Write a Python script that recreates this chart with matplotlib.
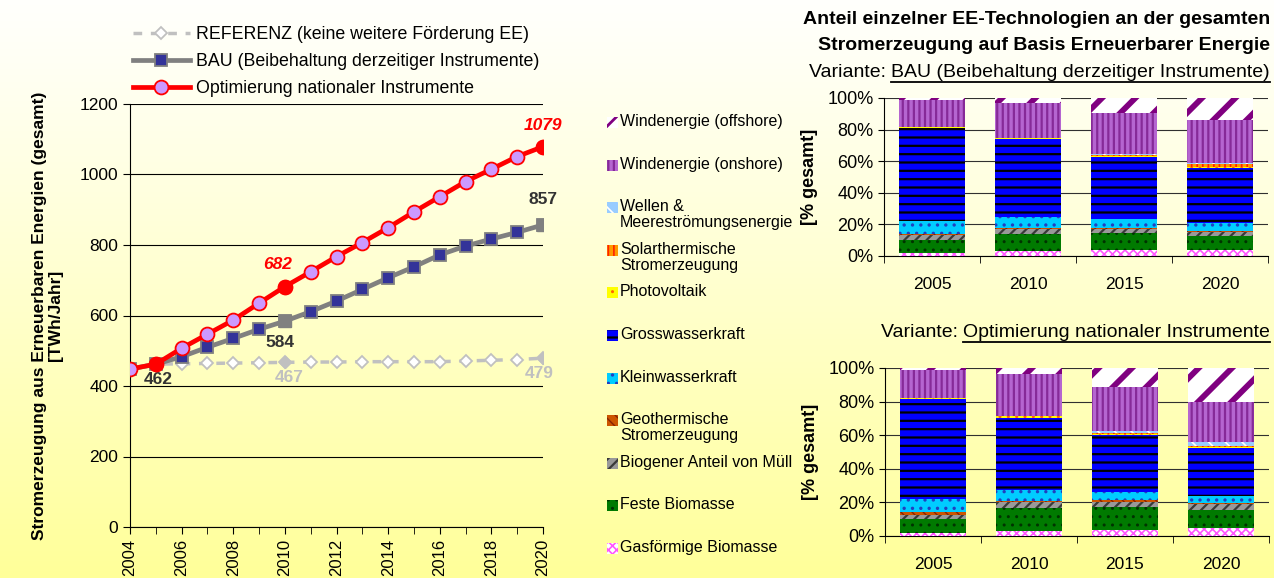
import numpy as np
import matplotlib as mpl
import matplotlib.pyplot as plt
from matplotlib.patches import Rectangle
from matplotlib.lines import Line2D

plt.rcParams['font.family'] = ['Liberation Sans', 'DejaVu Sans']
plt.rcParams['font.size'] = 12

# Total electricity generation from renewables [TWh/Jahr]
years = list(range(2004, 2021))
referenz = [448, 462, 463, 464, 465, 466, 467, 468, 468, 469, 469, 469, 469, 471, 473, 475, 479]
bau = [448, 462, 483, 510, 535, 561, 584, 611, 641, 674, 707, 738, 772, 797, 817, 836, 857]
optimierung = [448, 462, 507, 547, 587, 635, 682, 724, 767, 807, 849, 894, 937, 980, 1015, 1051, 1079]

# Shares per technology [%], stacked from bottom to top
bar_years = ['2005', '2010', '2015', '2020']
technologies = ['Gasförmige Biomasse', 'Feste Biomasse', 'Biogener Anteil von Müll',
                'Geothermische\nStromerzeugung', 'Kleinwasserkraft', 'Grosswasserkraft',
                'Photovoltaik', 'Solarthermische\nStromerzeugung',
                'Wellen &\nMeereströmungsenergie', 'Windenergie (onshore)',
                'Windenergie (offshore)']
bau_shares = [
    [2.1, 3.2, 3.6, 3.6],
    [7.8, 10.7, 11.0, 9.3],
    [3.2, 3.2, 2.5, 2.5],
    [1.0, 0.6, 0.6, 0.4],
    [8.1, 7.0, 5.7, 5.1],
    [59.0, 49.4, 39.0, 34.8],
    [0.6, 0.8, 1.0, 0.8],
    [0.0, 0.0, 0.3, 1.5],
    [0.0, 0.0, 1.0, 0.6],
    [16.8, 21.9, 26.0, 27.3],
    [1.4, 3.2, 9.3, 14.1],
]
opt_shares = [
    [2.0, 2.8, 3.4, 4.6],
    [7.9, 13.7, 13.7, 11.1],
    [2.6, 3.9, 3.3, 3.1],
    [1.6, 0.4, 1.0, 0.6],
    [7.7, 6.4, 4.6, 4.4],
    [59.9, 43.2, 33.9, 28.6],
    [0.4, 1.2, 0.8, 0.7],
    [0.0, 0.0, 0.4, 0.7],
    [0.0, 0.0, 1.2, 2.0],
    [16.6, 24.8, 26.4, 23.8],
    [1.4, 3.6, 11.3, 20.4],
]

# face colour, hatch colour, hatch, hatch linewidth
styles = [
    ('#ffffff', '#ff55ff', 'xxxx', 1.2),
    ('#007a00', '#003300', '..', 1.0),
    ('#999999', '#3a3a3a', '///', 1.6),
    ('#cc5500', '#882200', '\\\\\\', 1.0),
    ('#00ccff', '#2040c0', '..', 1.2),
    ('#0000ff', '#000000', '--', 1.6),
    ('#ffff00', '#ff6600', '..', 1.0),
    ('#ff9900', '#ff2200', '|||', 1.2),
    ('#99ccff', '#ffffff', '\\\\', 1.2),
    ('#b565d0', '#862a98', '|||', 1.6),
    ('#ffffff', '#800080', '/', 4.2),
]

W, H = 1274, 578
fig = plt.figure(figsize=(W / 100, H / 100), dpi=100)


def fx(px):
    return px / W


def fy(py):
    return 1 - py / H


def hatched(patch, lw):
    if hasattr(patch, 'set_hatch_linewidth'):
        patch.set_hatch_linewidth(lw)


# background gradient and overlay in pixel coordinates
bg = fig.add_axes([0, 0, 1, 1], zorder=-5)
grad = np.linspace(0, 1, 256)
cols = np.ones((256, 1, 3))
cols[:, 0, 2] = 0.99 - 0.39 * grad ** 1.1
bg.imshow(cols, extent=[0, W, H, 0], aspect='auto')
bg.set_xlim(0, W)
bg.set_ylim(H, 0)
bg.axis('off')

# ---- left line chart ----
ax = fig.add_axes([fx(130), fy(527), fx(543 - 130), (527 - 104) / H])
ax.set_facecolor('none')
ax.plot(years, referenz, color='#c0c0c0', lw=2.5, ls=(0, (2.5, 2.5)), marker='D', ms=6,
        mfc='white', mec='#c0c0c0', mew=1.3, label='REFERENZ (keine weitere Förderung EE)', zorder=3)
ax.plot(years, bau, color='#808080', lw=3.4, marker='s', ms=9, mfc='#333399', mec='#808080',
        mew=1.3, label='BAU (Beibehaltung derzeitiger Instrumente)', zorder=4)
ax.plot(years, optimierung, color='#ff0000', lw=3.4, marker='o', ms=10, mfc='#cc99ff', mec='#ff0000',
        mew=1.3, label='Optimierung nationaler Instrumente', zorder=5)

# highlighted points
i10, i20, i05 = years.index(2010), years.index(2020), years.index(2005)
ax.plot([years[i10], years[i20]], [referenz[i10], referenz[i20]], ls='none', marker='D', ms=6,
        color='#c0c0c0', zorder=3)
ax.plot([years[i10], years[i20]], [bau[i10], bau[i20]], ls='none', marker='s', ms=9,
        color='#808080', zorder=4)
ax.plot([years[i05], years[i10], years[i20]], [optimierung[i05], optimierung[i10], optimierung[i20]],
        ls='none', marker='o', ms=10, color='#ff0000', zorder=5)

bold = dict(fontweight='bold', fontsize=12.5, ha='center', va='center', textcoords='offset pixels')
ax.annotate(str(bau[i05]), (2005, bau[i05]), xytext=(2, -15), color='#333333', **bold)
ax.annotate(str(bau[i10]), (2010, bau[i10]), xytext=(-5, -21), color='#333333', **bold)
ax.annotate(str(bau[i20]), (2020, bau[i20]), xytext=(0, 25), color='#333333', **bold)
ax.annotate(str(referenz[i10]), (2010, referenz[i10]), xytext=(4, -15), color='#c0c0c0', **bold)
ax.annotate(str(referenz[i20]), (2020, referenz[i20]), xytext=(-4, -15), color='#c0c0c0', **bold)
ax.annotate(str(optimierung[i10]), (2010, optimierung[i10]), xytext=(-7, 22), color='#ff0000',
            fontstyle='italic', **bold)
ax.annotate(str(optimierung[i20]), (2020, optimierung[i20]), xytext=(0, 21), color='#ff0000',
            fontstyle='italic', **bold)

ax.set_xlim(2004, 2020)
ax.set_ylim(0, 1200)
ax.set_yticks(range(0, 1201, 200))
ax.set_xticks(range(2004, 2021, 2))
ax.set_xticks(years, minor=True)
ax.tick_params(axis='x', which='both', direction='out', length=5, rotation=90, labelsize=12)
ax.tick_params(axis='y', direction='out', length=5, labelsize=12.5)
ax.grid(axis='y', color='black', lw=0.8)
ax.set_axisbelow(True)
for s in ['top', 'right']:
    ax.spines[s].set_visible(False)
ax.set_ylabel('Stromerzeugung aus Erneuerbaren Energien (gesamt)\n[TWh/Jahr]',
              fontweight='bold', fontsize=12.5, labelpad=12, linespacing=1.1)
fig.legend(loc='upper left', bbox_to_anchor=(fx(124), fy(17)), frameon=False, fontsize=12.8,
           handlelength=3.2, handletextpad=0.33, labelspacing=0.57, borderpad=0, numpoints=1)


# ---- right stacked bar charts ----
def draw_shares(axb, shares):
    x = np.arange(len(bar_years))
    bottom = np.zeros(len(bar_years))
    for vals, (face, hcol, hatch, hlw) in zip(shares, styles):
        with mpl.rc_context({'hatch.linewidth': hlw}):
            bars = axb.bar(x, vals, bottom=bottom, width=0.68, color=face, edgecolor=hcol,
                           hatch=hatch, linewidth=0, zorder=3)
        for b in bars:
            hatched(b, hlw)
        bottom += np.array(vals)
    axb.set_facecolor('none')
    axb.set_xlim(-0.5, len(bar_years) - 0.5)
    axb.set_ylim(0, 100)
    axb.set_yticks(range(0, 101, 20))
    axb.set_yticklabels(['%d%%' % v for v in range(0, 101, 20)])
    axb.set_xticks(x)
    axb.set_xticklabels(bar_years)
    axb.set_xticks(np.arange(-0.5, len(bar_years), 1), minor=True)
    axb.tick_params(axis='x', which='major', length=0, pad=15, labelsize=12.5)
    axb.tick_params(axis='x', which='minor', length=5, direction='out')
    axb.tick_params(axis='y', length=4, direction='out', labelsize=13)
    axb.grid(axis='y', color='#303030', lw=0.8)
    axb.set_axisbelow(True)
    for s in ['top', 'right']:
        axb.spines[s].set_visible(False)
    axb.set_ylabel('[% gesamt]', fontweight='bold', fontsize=13, labelpad=7)


ax1 = fig.add_axes([fx(884), fy(256), fx(1268 - 884), (256 - 98) / H])
draw_shares(ax1, bau_shares)
ax2 = fig.add_axes([fx(885), fy(536), fx(1269 - 885), (536 - 368) / H])
draw_shares(ax2, opt_shares)

fig.text(fx(1270), fy(20), 'Anteil einzelner EE-Technologien an der gesamten', ha='right',
         va='center', fontweight='bold', fontsize=14)
fig.text(fx(1270), fy(45), 'Stromerzeugung auf Basis Erneuerbarer Energie', ha='right',
         va='center', fontweight='bold', fontsize=14)

renderer = fig.canvas.get_renderer()


def variant_title(py, name):
    t = fig.text(fx(1270), fy(py), name, ha='right', va='baseline', fontsize=14)
    bb = t.get_window_extent(renderer)
    fig.text(bb.x0 / W, fy(py), 'Variante: ', ha='right', va='baseline', fontsize=14)
    fig.add_artist(Line2D([bb.x0 / W, bb.x1 / W], [(bb.y0 - 1) / H] * 2, color='black', lw=1.3,
                          transform=fig.transFigure))


variant_title(77, 'BAU (Beibehaltung derzeitiger Instrumente)')
variant_title(337, 'Optimierung nationaler Instrumente')

# ---- middle legend ----
for k, (name, (face, hcol, hatch, hlw)) in enumerate(zip(technologies[::-1], styles[::-1])):
    y = 122 + 42.6 * k
    with mpl.rc_context({'hatch.linewidth': min(hlw, 2.0)}):
        p = Rectangle((607, y - 5), 11, 11, facecolor=face, edgecolor=hcol, hatch=hatch, linewidth=0)
    hatched(p, min(hlw, 2.0))
    bg.add_patch(p)
    bg.text(620, y - 8, name, ha='left', va='top', fontsize=11.5, linespacing=1.08)

fig.savefig('out.png', dpi=100)
